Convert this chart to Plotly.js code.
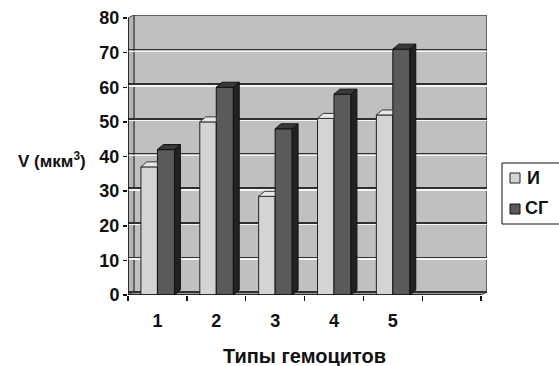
<!DOCTYPE html>
<html>
<head>
<meta charset="utf-8">
<script src="https://cdn.plot.ly/plotly-3.0.1.min.js"></script>
<style>html,body{margin:0;padding:0;background:#fff;}#chart{width:559px;height:366px;}</style>
</head>
<body>
<div id="chart"></div>
<script>
// ---- data ----
var categories = [1, 2, 3, 4, 5];
var tickLabels = ['1', '2', '3', '4', '5'];
var seriesNames = ['И', 'СГ'];
var valuesI = [37, 50, 28.5, 51, 52];
var valuesSG = [42, 60, 48, 58, 71];
var yTicks = [0, 10, 20, 30, 40, 50, 60, 70, 80];

// ---- geometry (3D look) ----
var wI = 0.28, wSG = 0.29;       // bar widths (category units)
var bdx = 0.1, bdy = 1.45;       // bar depth offset
var wdx = 0.1, wdy = 0.87;       // wall offset
var FONT = 'Liberation Sans, Arial, sans-serif';
var colI = '#d4d4d4', colSG = '#5a5a5a';

// plot area in pixels (for placing paper-referenced decorations)
var PL = 128, PR = 487, PT = 15, PB = 295;
function px(x) { return (x - PL) / (PR - PL); }
function py(y) { return (PB - y) / (PB - PT); }

function polyTrace(xs, ys, fill, line) {
  return {type: 'scatter', mode: 'lines', x: xs, y: ys, fill: 'toself',
    fillcolor: fill, line: {color: line, width: 1}, hoverinfo: 'skip', showlegend: false};
}

var sideX = [], sideY = [], topX = [], topY = [], topIX = [], topIY = [];
categories.forEach(function (c, i) {
  var v = valuesSG[i];
  var r = c + wSG;
  sideX.push(r, r + bdx, r + bdx, r, r, null);
  sideY.push(0, bdy, v + bdy, v, 0, null);
  topX.push(c, r, r + bdx, c + bdx, c, null);
  topY.push(v, v, v + bdy, v + bdy, v, null);
  var u = valuesI[i];
  var L = c - wI, R = c;
  topIX.push(L, R, R, L + bdx, L, null);
  topIY.push(u, u, u + bdy, u + bdy, u, null);
});

var traces = [
  {type: 'bar', name: seriesNames[0], x: categories, y: valuesI, offset: -wI, width: wI,
    marker: {color: colI, line: {color: '#222', width: 1}}, hoverinfo: 'y', showlegend: false},
  {type: 'bar', name: seriesNames[1], x: categories, y: valuesSG, offset: 0, width: wSG,
    marker: {color: colSG, line: {color: '#111', width: 1}}, hoverinfo: 'y', showlegend: false},
  polyTrace(topIX, topIY, '#e8e8e8', '#333'),
  polyTrace(sideX, sideY, '#222222', '#111'),
  polyTrace(topX, topY, '#3a3a3a', '#111')
];
traces.push({type: 'scatter', x: [1], y: [0], xaxis: 'x2', yaxis: 'y2', mode: 'markers', marker: {opacity: 0}, showlegend: false, hoverinfo: 'skip'});
traces.push({type: 'scatter', x: [1], y: [0], xaxis: 'x2', yaxis: 'y3', mode: 'markers', marker: {opacity: 0}, showlegend: false, hoverinfo: 'skip'});

var xr = [0.5, 6.5 + wdx];
var yr = [0, 80 + wdy];

var layout = {
  width: 559, height: 366,
  margin: {l: PL, r: 559 - PR, t: PT, b: 366 - PB},
  paper_bgcolor: '#ffffff', plot_bgcolor: '#ffffff',
  showlegend: false,
  barmode: 'overlay',
  font: {family: FONT, size: 18, color: '#111'},
  xaxis: {range: xr, tickvals: categories, ticktext: tickLabels, ticks: '', showgrid: false,
    zeroline: false, showline: false, tickfont: {family: FONT, size: 18, color: '#111', weight: 'bold'},
    ticklabelstandoff: 13, fixedrange: true},
  xaxis2: {range: xr, overlaying: 'x', side: 'bottom', tickvals: [0.5, 1.5, 2.5, 3.5, 4.5, 5.5, 6.5],
    showticklabels: false, ticks: 'outside', ticklen: 5, tickcolor: '#111', tickwidth: 1.5,
    showgrid: false, zeroline: false, showline: false, fixedrange: true},
  yaxis: {range: yr, tickvals: yTicks, ticks: 'outside', ticklen: 4, tickcolor: '#111', tickwidth: 1.5,
    showgrid: false, zeroline: false, showline: false,
    tickfont: {family: FONT, size: 18, color: '#111', weight: 'bold'}, fixedrange: true},
  yaxis2: {range: [-wdy, 80], overlaying: 'y', tickvals: yTicks, showticklabels: false, ticks: '',
    showgrid: true, gridcolor: '#303030', gridwidth: 1.6, zeroline: false, showline: false, fixedrange: true},
  yaxis3: {range: [0.5 - wdy, 80.5], overlaying: 'y', tickvals: yTicks.slice(1, 8), showticklabels: false, ticks: '',
    showgrid: true, gridcolor: '#f6f6f6', gridwidth: 1.4, zeroline: false, showline: false, fixedrange: true},
  shapes: [
    {type: 'rect', xref: 'x', yref: 'y', x0: 0.5 + wdx, x1: 6.5 + wdx, y0: wdy, y1: 80 + wdy,
      fillcolor: '#c0c0c0', line: {color: '#444', width: 1.5}, layer: 'below'},
    {type: 'path', xref: 'x', yref: 'y',
      path: 'M 0.5 0 L ' + (0.5 + wdx) + ' ' + wdy + ' L ' + (0.5 + wdx) + ' ' + (80 + wdy) + ' L 0.5 80 Z',
      fillcolor: '#b4b4b4', line: {color: '#444', width: 1}, layer: 'below'},
    {type: 'path', xref: 'x', yref: 'y',
      path: 'M 0.5 0 L 6.5 0 L ' + (6.5 + wdx) + ' ' + wdy + ' L ' + (0.5 + wdx) + ' ' + wdy + ' Z',
      fillcolor: '#9a9a9a', line: {color: '#444', width: 1}, layer: 'below'},
    {type: 'line', xref: 'x', yref: 'y', x0: 0.5, x1: 6.5, y0: 0, y1: 0, line: {color: '#111', width: 1.5}, layer: 'above'},
    {type: 'line', xref: 'x', yref: 'y', x0: 0.5, x1: 0.5, y0: 0, y1: 80, line: {color: '#111', width: 1.5}, layer: 'above'},
    {type: 'rect', xref: 'paper', yref: 'paper', x0: px(502), x1: px(575), y0: py(224), y1: py(163),
      fillcolor: '#ffffff', line: {color: '#111', width: 1}},
    {type: 'rect', xref: 'paper', yref: 'paper', x0: px(510), x1: px(520), y0: py(183), y1: py(173),
      fillcolor: colI, line: {color: '#222', width: 1}},
    {type: 'rect', xref: 'paper', yref: 'paper', x0: px(510), x1: px(520), y0: py(214), y1: py(204),
      fillcolor: colSG, line: {color: '#111', width: 1}}
  ],
  annotations: [
    {xref: 'paper', yref: 'paper', x: px(525), y: py(178), xanchor: 'left', yanchor: 'middle',
      showarrow: false, text: seriesNames[0], font: {family: FONT, size: 18, color: '#111', weight: 'bold'}},
    {xref: 'paper', yref: 'paper', x: px(523), y: py(208), xanchor: 'left', yanchor: 'middle',
      showarrow: false, text: seriesNames[1], font: {family: FONT, size: 18, color: '#111', weight: 'bold'}},
    {xref: 'paper', yref: 'paper', x: px(52), y: py(160), xanchor: 'center', yanchor: 'middle',
      showarrow: false, text: 'V (мкм<sup>3</sup>)', font: {family: FONT, size: 17, color: '#111', weight: 'bold'}},
    {xref: 'paper', yref: 'paper', x: px(304), y: py(356), xanchor: 'center', yanchor: 'middle',
      showarrow: false, text: 'Типы гемоцитов', font: {family: FONT, size: 20, color: '#111', weight: 'bold'}}
  ]
};

Plotly.newPlot('chart', traces, layout, {displayModeBar: false, staticPlot: true});
</script>
</body>
</html>
